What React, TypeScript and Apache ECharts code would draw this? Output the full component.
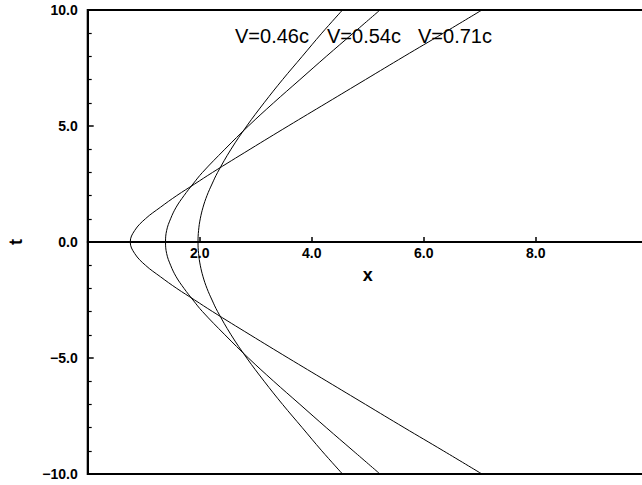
import React, { useEffect, useRef } from "react";
import * as echarts from "echarts";

// Time samples (t) shared by the three world lines
const tValues = [-10, -9, -8, -7, -6, -5, -4, -3, -2.5, -2, -1.5, -1, -0.5, 0, 0.5, 1, 1.5, 2, 2.5, 3, 4, 5, 6, 7, 8, 9, 10];

// Position x of each trajectory at the times above
const xV071 = [7.04, 6.35, 5.65, 4.96, 4.27, 3.58, 2.9, 2.23, 1.91, 1.59, 1.3, 1.03, 0.84, 0.76, 0.84, 1.03, 1.3, 1.59, 1.91, 2.23, 2.9, 3.58, 4.27, 4.96, 5.65, 6.35, 7.04];
const xV054 = [5.22, 4.74, 4.26, 3.79, 3.32, 2.87, 2.45, 2.05, 1.88, 1.72, 1.58, 1.48, 1.41, 1.39, 1.41, 1.48, 1.58, 1.72, 1.88, 2.05, 2.45, 2.87, 3.32, 3.79, 4.26, 4.74, 5.22];
const xV046 = [4.55, 4.18, 3.83, 3.48, 3.15, 2.84, 2.56, 2.32, 2.22, 2.13, 2.06, 2.01, 1.98, 1.97, 1.98, 2.01, 2.06, 2.13, 2.22, 2.32, 2.56, 2.84, 3.15, 3.48, 3.83, 4.18, 4.55];

const curveLabels = ["V=0.46c", "V=0.54c", "V=0.71c"];

// Labelled ticks along the t = 0 axis
const xTickValues = [2, 4, 6, 8];

const FONT = "'Liberation Sans', Arial, Helvetica, sans-serif";

const fmt = (v: number) => (v < 0 ? "\u2212" + Math.abs(v).toFixed(1) : v.toFixed(1));

export default function App() {
  const ref = useRef<HTMLDivElement>(null);

  useEffect(() => {
    if (!ref.current) return;
    const chart = echarts.init(ref.current, null, { renderer: "svg" });

    const toPoints = (xs: number[]) => xs.map((x, i) => [x, tValues[i]]);
    const lineSeries = (name: string, xs: number[]) => ({
      name,
      type: "line",
      data: toPoints(xs),
      showSymbol: false,
      smooth: 0.4,
      lineStyle: { color: "#000", width: 1 },
      z: 3,
    });

    const axisText = (text: string, fontSize: number, distance: number) => ({
      show: true,
      position: "bottom",
      distance,
      formatter: text,
      fontFamily: FONT,
      fontWeight: "bold",
      fontSize,
      color: "#000",
      textBorderWidth: 0,
      textBorderColor: "transparent",
      opacity: 1,
    });

    chart.setOption({
      animation: false,
      backgroundColor: "#fff",
      grid: {
        left: 87.7,
        right: 12.3,
        top: 10,
        bottom: 11,
        outerBoundsMode: "none",
        containLabel: false,
        show: true,
        borderColor: "#000",
        borderWidth: 2,
        backgroundColor: "transparent",
      },
      xAxis: {
        type: "value",
        min: 0,
        max: 10,
        interval: 2,
        axisLine: { onZero: true, lineStyle: { color: "#000", width: 2 } },
        axisTick: { show: true, inside: true, length: 5, lineStyle: { color: "#000", width: 1.5 } },
        axisLabel: { show: false },
        splitLine: { show: false },
      },
      yAxis: {
        type: "value",
        min: -10,
        max: 10,
        interval: 5,
        name: "t",
        nameLocation: "middle",
        nameGap: 63,
        nameTextStyle: { fontFamily: FONT, fontWeight: "bold", fontSize: 18, color: "#000" },
        axisLine: { lineStyle: { color: "#000", width: 2 } },
        axisTick: { show: true, inside: true, length: 6, lineStyle: { color: "#000", width: 1.5 } },
        minorTick: { show: true, splitNumber: 5, length: 4, lineStyle: { color: "#000", width: 1.2 } },
        axisLabel: {
          margin: 10,
          formatter: fmt,
          fontFamily: FONT,
          fontWeight: "bold",
          fontSize: 14,
          color: "#000",
        },
        splitLine: { show: false },
      },
      series: [
        lineSeries(curveLabels[2], xV071),
        lineSeries(curveLabels[1], xV054),
        lineSeries(curveLabels[0], xV046),
        {
          // tick labels and axis title sitting under the t = 0 axis line
          type: "scatter",
          symbol: "circle",
          symbolSize: 0,
          silent: true,
          z: 4,
          itemStyle: { color: "#000", opacity: 1 },
          data: [
            ...xTickValues.map((v) => ({ value: [v, 0], label: axisText(fmt(v), 14, 4) })),
            { value: [5, 0], label: axisText("x", 18, 24) },
          ],
        },
      ],
      graphic: [
        { type: "text", left: 235, top: 26, style: { text: curveLabels[0], font: `20px ${FONT}`, fill: "#000" } },
        { type: "text", left: 327, top: 26, style: { text: curveLabels[1], font: `20px ${FONT}`, fill: "#000" } },
        { type: "text", left: 418, top: 26, style: { text: curveLabels[2], font: `20px ${FONT}`, fill: "#000" } },
      ],
    });

    return () => chart.dispose();
  }, []);

  return (
    <div
      ref={ref}
      style={{ position: "fixed", left: 0, top: 0, width: 660, height: 485, background: "#fff" }}
    />
  );
}
